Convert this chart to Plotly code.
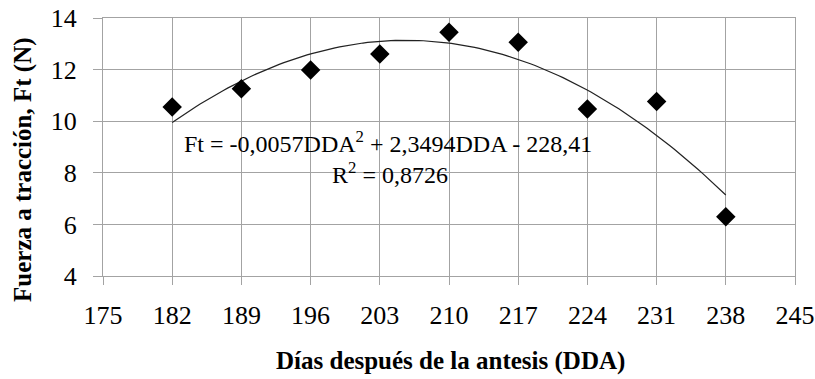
import numpy as np
import plotly.graph_objects as go

dda = [182, 189, 196, 203, 210, 217, 224, 231, 238]
ft = [10.55, 11.26, 11.98, 12.60, 13.45, 13.06, 10.47, 10.76, 6.30]
x_ticks = [175, 182, 189, 196, 203, 210, 217, 224, 231, 238, 245]
y_ticks = [4, 6, 8, 10, 12, 14]
eq_line1 = "Ft = -0,0057DDA<sup>2</sup> + 2,3494DDA - 228,41"
eq_line2 = "R<sup>2</sup> = 0,8726"
x_title = "<b>Días después de la antesis (DDA)</b>"
y_title = "<b>Fuerza a tracción, Ft (N)</b>"

coef = np.polyfit(dda, ft, 2)
xs = np.linspace(min(dda), max(dda), 120)
ys = np.polyval(coef, xs)

FONT = "Liberation Serif"
GRID = "#a3a3a3"

fig = go.Figure()
fig.add_trace(go.Scatter(x=xs, y=ys, mode="lines",
                         line=dict(color="#222222", width=1.2),
                         hoverinfo="skip", showlegend=False))
fig.add_trace(go.Scatter(x=dda, y=ft, mode="markers",
                         marker=dict(symbol="diamond", size=15, color="black"),
                         showlegend=False))

fig.update_layout(
    width=815, height=379,
    margin=dict(l=103, r=20, t=18, b=103),
    paper_bgcolor="white", plot_bgcolor="white",
    font=dict(family=FONT, color="black"),
)
fig.add_annotation(x=0.412, y=9.2, xref="paper", yref="y", text=eq_line1,
                   showarrow=False, font=dict(family=FONT, size=24, color="black"),
                   xanchor="center", yanchor="middle")
fig.add_annotation(x=0.415, y=8.0, xref="paper", yref="y", text=eq_line2,
                   showarrow=False, font=dict(family=FONT, size=24, color="black"),
                   xanchor="center", yanchor="middle")
fig.add_annotation(x=0.502, y=-0.33, xref="paper", yref="paper", text=x_title,
                   showarrow=False, font=dict(family=FONT, size=25, color="black"),
                   xanchor="center", yanchor="middle")
fig.add_annotation(x=-0.1156, y=0.411, xref="paper", yref="paper", text=y_title,
                   showarrow=False, textangle=-90,
                   font=dict(family=FONT, size=25, color="black"),
                   xanchor="center", yanchor="middle")

fig.update_xaxes(range=[175, 245], tickvals=x_ticks,
                 ticktext=[str(v) for v in x_ticks],
                 automargin=False,
                 showgrid=True, gridcolor=GRID, gridwidth=1,
                 showline=True, linecolor=GRID, linewidth=1, mirror=True,
                 ticks="outside", ticklen=8, tickcolor=GRID,
                 ticklabelstandoff=8,
                 tickfont=dict(family=FONT, size=26, color="black"),
                 zeroline=False)
fig.update_yaxes(range=[4, 14], tickvals=y_ticks,
                 automargin=False,
                 showgrid=True, gridcolor=GRID, gridwidth=1,
                 showline=True, linecolor=GRID, linewidth=1, mirror=True,
                 ticks="outside", ticklen=9, tickcolor=GRID,
                 ticklabelstandoff=11,
                 tickfont=dict(family=FONT, size=26, color="black"),
                 zeroline=False)

fig.write_html("out.html")
